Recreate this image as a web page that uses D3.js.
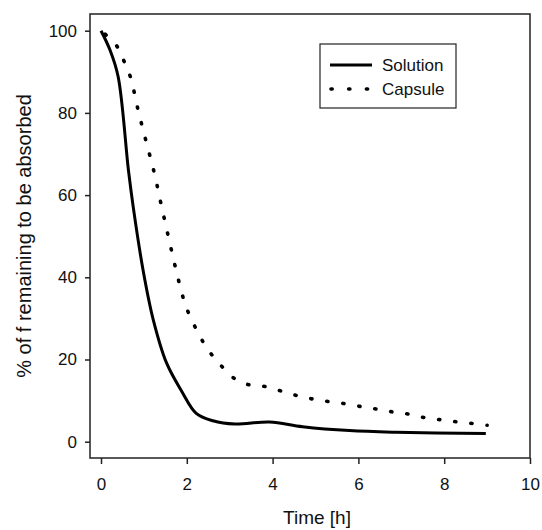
<!DOCTYPE html>
<html>
<head>
<meta charset="utf-8">
<script src="https://cdn.jsdelivr.net/npm/d3@7"></script>
<style>
  body { margin: 0; background: #fff; }
  text { font-family: "Liberation Sans", Arial, sans-serif; fill: #111; }
</style>
</head>
<body>
<script>
// values
const solutionTime = [0, 0.21, 0.40, 0.64, 0.75, 0.98, 1.22, 1.53, 1.88, 2.22, 2.61, 3.12, 3.93, 4.70, 5.79, 6.88, 8.97];
const solutionPct  = [100, 95.3, 88.8, 66, 57.2, 41.8, 29.6, 19.1, 12.3, 6.9, 5.1, 4.3, 4.8, 3.65, 2.7, 2.3, 2.0];

const capsuleTime = [0, 0.36, 0.54, 0.69, 0.86, 1.05, 1.24, 1.40, 1.57, 1.74, 1.93, 2.07, 2.25, 2.46, 2.75, 3.12, 3.47, 3.85, 4.24, 4.61, 4.98, 5.35, 5.71, 6.09, 6.45, 6.82, 7.19, 7.57, 7.95, 8.32, 8.69, 9.0];
const capsulePct  = [100, 96.4, 92.5, 88.6, 80.9, 73.1, 65.5, 57.8, 49.9, 42.2, 34.5, 30.6, 26.8, 22.9, 19.1, 15.3, 13.8, 13.4, 12.2, 11.1, 10.3, 9.7, 9.2, 8.5, 7.9, 7.2, 6.7, 5.8, 5.3, 4.8, 4.4, 4.0];

const xTicks = [0, 2, 4, 6, 8, 10];
const yTicks = [0, 20, 40, 60, 80, 100];
const seriesNames = ["Solution", "Capsule"];

const width = 542, height = 530;
const frame = {left: 90, right: 530, top: 14, bottom: 458};

const x = d3.scaleLinear().domain([0, 10]).range([101, 530]);
const y = d3.scaleLinear().domain([0, 100]).range([441.7, 30.7]);

const svg = d3.select("body").append("svg")
    .attr("width", width)
    .attr("height", height);

// frame
svg.append("rect")
    .attr("x", frame.left).attr("y", frame.top)
    .attr("width", frame.right - frame.left)
    .attr("height", frame.bottom - frame.top)
    .attr("fill", "none")
    .attr("stroke", "#222")
    .attr("stroke-width", 1.5);

// axes
const xAxis = svg.append("g")
    .attr("transform", "translate(0," + frame.bottom + ")")
    .call(d3.axisBottom(x).tickValues(xTicks).tickSize(6).tickPadding(14).tickFormat(d3.format("d")));
const yAxis = svg.append("g")
    .attr("transform", "translate(" + frame.left + ",0)")
    .call(d3.axisLeft(y).tickValues(yTicks).tickSize(5).tickPadding(8).tickFormat(d3.format("d")));

[xAxis, yAxis].forEach(g => {
  g.select(".domain").remove();
  g.selectAll(".tick line").attr("stroke", "#222").attr("stroke-width", 1.5);
  g.selectAll(".tick text")
    .style("font-family", '"Liberation Sans", Arial, sans-serif')
    .style("font-size", "17px")
    .attr("fill", "#111");
});

// curves
const line = d3.line()
    .x(d => x(d[0]))
    .y(d => y(d[1]))
    .curve(d3.curveCatmullRom.alpha(0.5));

const solution = solutionTime.map((t, i) => [t, solutionPct[i]]);
const capsule = capsuleTime.map((t, i) => [t, capsulePct[i]]);

svg.append("path")
    .datum(solution)
    .attr("d", line)
    .attr("fill", "none")
    .attr("stroke", "#000")
    .attr("stroke-width", 3);

svg.append("path")
    .datum(capsule)
    .attr("d", line)
    .attr("fill", "none")
    .attr("stroke", "#000")
    .attr("stroke-width", 3.6)
    .attr("stroke-linecap", "round")
    .attr("stroke-dasharray", "1.2,15")
    .attr("stroke-dashoffset", 10.5);

// axis titles
svg.append("text")
    .attr("x", 317)
    .attr("y", 524)
    .attr("text-anchor", "middle")
    .style("font-size", "19px")
    .text("Time [h]");

svg.append("text")
    .attr("transform", "translate(31,236) rotate(-90)")
    .attr("text-anchor", "middle")
    .style("font-size", "20px")
    .text("% of f remaining to be absorbed");

// legend
const legend = svg.append("g");
legend.append("rect")
    .attr("x", 320).attr("y", 44)
    .attr("width", 136).attr("height", 64)
    .attr("fill", "#fff")
    .attr("stroke", "#222")
    .attr("stroke-width", 1.2);

const item = legend.selectAll("g.item")
    .data(seriesNames)
    .enter().append("g")
    .attr("class", "item")
    .attr("transform", (d, i) => "translate(0," + (65 + i * 24) + ")");

item.append("line")
    .attr("x1", 330).attr("x2", 372)
    .attr("y1", 0).attr("y2", 0)
    .attr("stroke", "#000")
    .attr("stroke-width", d => d == "Solution" ? 3 : 3.6)
    .attr("stroke-linecap", d => d == "Solution" ? "butt" : "round")
    .attr("stroke-dasharray", d => d == "Solution" ? null : "1.2,16.5")
    .attr("stroke-dashoffset", d => d == "Solution" ? null : -1);

item.append("text")
    .attr("x", 382)
    .attr("y", 6)
    .style("font-size", "17px")
    .text(d => d);
</script>
</body>
</html>
